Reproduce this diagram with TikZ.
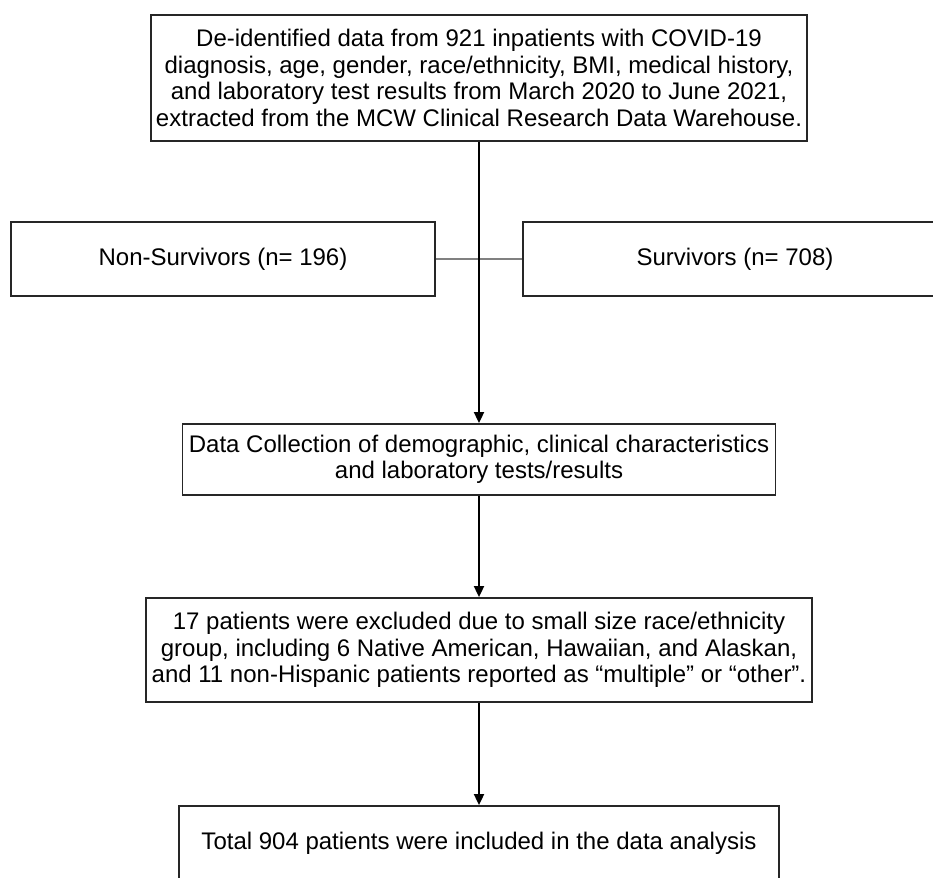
\documentclass[tikz,border=0pt]{standalone}
\usepackage{fontspec}
\setmainfont{Liberation Sans}
\usetikzlibrary{arrows.meta}
\tikzset{
  box/.style={draw=black!85, line width=1.8pt, fill=white, inner sep=0pt,
    align=center, font=\fontsize{24}{26.5}\selectfont},
  flow/.style={draw=black, line width=1.8pt, -{Triangle[length=11pt,width=10pt]}},
  split/.style={draw=black!50, line width=1.4pt}
}
\begin{document}
\begin{tikzpicture}[x=1pt,y=-1pt]
\useasboundingbox (0,0) rectangle (933,877);
\clip (0,0) rectangle (933,877);
\fill[white] (0,0) rectangle (933,877);

\node[box, minimum width=656pt, minimum height=126pt] (top) at (479,78)
  {De-identified data from 921 inpatients with COVID-19\\
   diagnosis, age, gender, race/ethnicity, BMI, medical history,\\
   and laboratory test results from March 2020 to June 2021,\\
   extracted from the MCW Clinical Research Data Warehouse.};

\node[box, minimum width=424pt, minimum height=74pt] (ns) at (223,259)
  {Non-Survivors (n= 196)};
\node[box, minimum width=424pt, minimum height=74pt] (sv) at (735,259)
  {Survivors (n= 708)};

\node[box, minimum width=593pt, minimum height=71pt] (dc) at (479,459.5)
  {Data Collection of demographic, clinical characteristics\\
   and laboratory tests/results};

\node[box, minimum width=666pt, minimum height=104pt] (ex) at (479,650)
  {17 patients were excluded due to small size race/ethnicity\\
   group, including 6 Native American, Hawaiian, and Alaskan,\\
   and 11 non-Hispanic patients reported as “multiple” or “other”.};

\node[box, minimum width=600pt, minimum height=74pt] (tot) at (479,843)
  {Total 904 patients were included in the data analysis};

\draw[split] (ns.east) -- (sv.west);
\draw[flow] (top.south) -- (dc.north);
\draw[flow] (dc.south) -- (ex.north);
\draw[flow] (ex.south) -- (tot.north);
\end{tikzpicture}
\end{document}
